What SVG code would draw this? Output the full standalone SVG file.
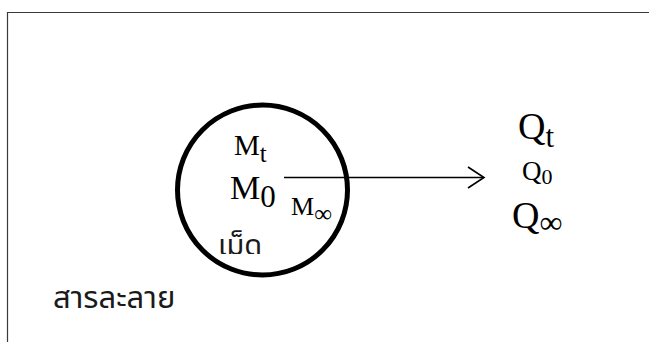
<svg xmlns="http://www.w3.org/2000/svg" width="649" height="342" viewBox="0 0 649 342">
<style>
.m{font-family:"Liberation Serif","DejaVu Serif",serif;fill:#000}
.th{font-family:"Noto Sans Thai","Noto Sans","Liberation Sans",sans-serif;fill:#1a1a1a}
</style>
<defs>
<clipPath id="clipMet"><rect x="200" y="215" width="80" height="39"/></clipPath>
</defs>
<rect width="649" height="342" fill="#fff"/>
<g id="frame" fill="none" stroke="#3a3a3a" stroke-width="1.2">
<path d="M7.5,342 V12.5 H649"/>
</g>
<g id="pellet">
<circle cx="262.5" cy="190" r="85" fill="none" stroke="#000" stroke-width="5"/>
<text class="m" x="234" y="155" font-size="29">M<tspan font-size="25" y="162">t</tspan></text>
<text class="m" x="230" y="199" font-size="34">M<tspan font-size="31" y="207">0</tspan></text>
<text class="m" x="291" y="215" font-size="26">M<tspan font-size="25" y="222">∞</tspan></text>
<text class="th" x="218" y="255" font-size="29" clip-path="url(#clipMet)">เม็ด</text>
</g>
<g id="connectors">
<path d="M284,177.5 H484" stroke="#000" stroke-width="1.6" fill="none"/>
<path d="M468,167 L484,177.5 L468,188" stroke="#000" stroke-width="1.6" fill="none"/>
</g>
<g id="release">
<text class="m" x="518" y="139" font-size="38">Q<tspan font-size="31" y="147">t</tspan></text>
<text class="m" x="522" y="180" font-size="27">Q<tspan font-size="22" y="184">0</tspan></text>
<text class="m" x="512" y="228" font-size="38">Q<tspan font-size="32" y="233">∞</tspan></text>
</g>
<g id="solution">
<text class="th" x="53" y="308" font-size="31">สารละลาย</text>
</g>
</svg>
